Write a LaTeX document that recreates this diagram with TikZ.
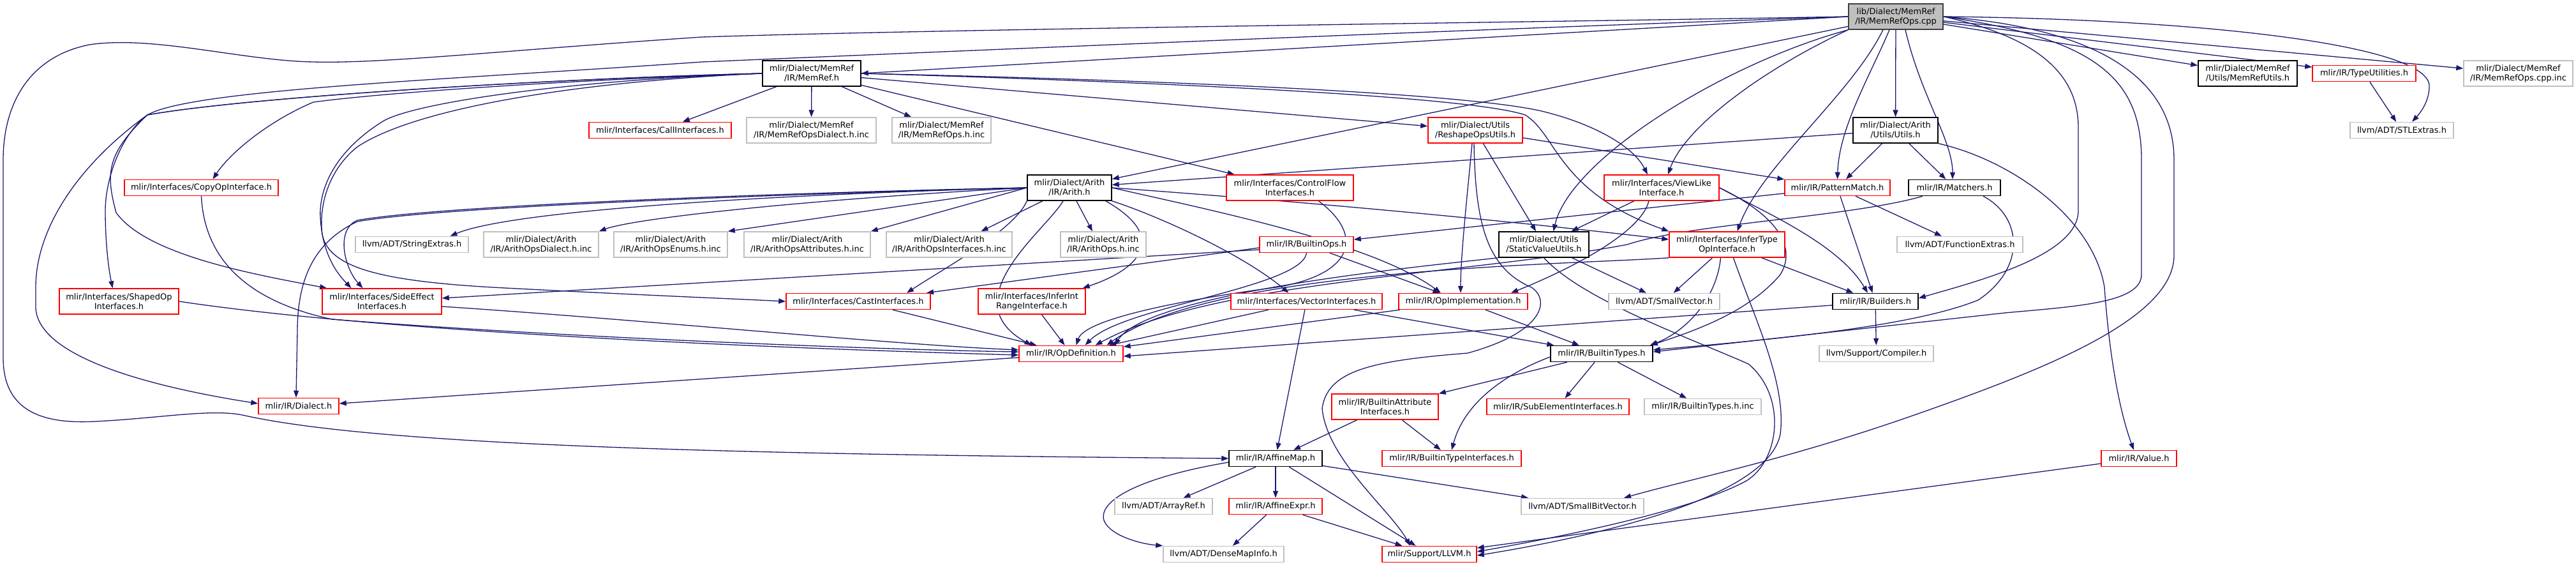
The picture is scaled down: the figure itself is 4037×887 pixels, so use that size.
\documentclass[tikz,border=0pt]{standalone}
\usepackage{fontspec}
\setmainfont{DejaVu Sans}
\usetikzlibrary{arrows.meta}
\pgfdeclarelayer{bg}
\pgfsetlayers{bg,main}
\definecolor{edgec}{HTML}{191970}
\definecolor{redb}{HTML}{FF0000}
\definecolor{grayb}{HTML}{BFBFBF}
\definecolor{rootf}{HTML}{BFBFBF}
\definecolor{rootb}{HTML}{404040}
\tikzset{
 nbox/.style={draw, fill=white, line width=1.5pt, inner sep=0pt, align=center, font=\fontsize{13}{15}\selectfont},
 redbox/.style={nbox, draw=redb},
 graybox/.style={nbox, draw=grayb},
 blackbox/.style={nbox, draw=black},
 rootbox/.style={nbox, draw=rootb, fill=rootf},
 one/.style={minimum height=25pt},
 two/.style={minimum height=40pt},
 e/.style={draw=edgec, line width=1.3pt, -{Triangle[length=11pt,width=8pt]}},
}
\newcommand\mk[6]{\node[#5, minimum width={(#3-#2)*1pt}] (#1) at ({(#2+#3)/2},#4) {#6};}
\begin{document}
\begin{tikzpicture}[x=1pt,y=-1pt]
\useasboundingbox (0,0) rectangle (4037,887);
\mk{R}{2897}{3045}{26}{rootbox,two}{lib/Dialect/MemRef\\/IR/MemRefOps.cpp}
\mk{MR}{1195}{1349}{115}{blackbox,two}{mlir/Dialect/MemRef\\/IR/MemRef.h}
\mk{MU}{3445}{3600}{115}{blackbox,two}{mlir/Dialect/MemRef\\/Utils/MemRefUtils.h}
\mk{TU}{3624}{3786}{115}{redbox,one}{mlir/IR/TypeUtilities.h}
\mk{CPI}{3861}{4032}{115}{graybox,two}{mlir/Dialect/MemRef\\/IR/MemRefOps.cpp.inc}
\mk{CI}{923}{1146}{204}{redbox,one}{mlir/Interfaces/CallInterfaces.h}
\mk{MRD}{1170}{1373}{204}{graybox,two}{mlir/Dialect/MemRef\\/IR/MemRefOpsDialect.h.inc}
\mk{MRO}{1398}{1553}{204}{graybox,two}{mlir/Dialect/MemRef\\/IR/MemRefOps.h.inc}
\mk{RU}{2238}{2386}{204}{redbox,two}{mlir/Dialect/Utils\\/ReshapeOpsUtils.h}
\mk{AU}{2904}{3037}{204}{blackbox,two}{mlir/Dialect/Arith\\/Utils/Utils.h}
\mk{STL}{3683}{3845}{204}{graybox,one}{llvm/ADT/STLExtras.h}
\mk{CP}{195}{436}{294}{redbox,one}{mlir/Interfaces/CopyOpInterface.h}
\mk{AR}{1610}{1742}{294}{blackbox,two}{mlir/Dialect/Arith\\/IR/Arith.h}
\mk{CF}{1922}{2121}{294}{redbox,two}{mlir/Interfaces/ControlFlow\\Interfaces.h}
\mk{VL}{2514}{2694}{294}{redbox,two}{mlir/Interfaces/ViewLike\\Interface.h}
\mk{PM}{2797}{2962}{294}{redbox,one}{mlir/IR/PatternMatch.h}
\mk{MA}{2991}{3135}{294}{blackbox,one}{mlir/IR/Matchers.h}
\mk{SX}{557}{734}{383}{graybox,one}{llvm/ADT/StringExtras.h}
\mk{AOD}{758}{938}{383}{graybox,two}{mlir/Dialect/Arith\\/IR/ArithOpsDialect.h.inc}
\mk{AOE}{962}{1140}{383}{graybox,two}{mlir/Dialect/Arith\\/IR/ArithOpsEnums.h.inc}
\mk{AOA}{1166}{1364}{383}{graybox,two}{mlir/Dialect/Arith\\/IR/ArithOpsAttributes.h.inc}
\mk{AOI}{1389}{1586}{383}{graybox,two}{mlir/Dialect/Arith\\/IR/ArithOpsInterfaces.h.inc}
\mk{AOH}{1662}{1796}{383}{graybox,two}{mlir/Dialect/Arith\\/IR/ArithOps.h.inc}
\mk{BO}{1974}{2121}{383}{redbox,one}{mlir/IR/BuiltinOps.h}
\mk{SV}{2349}{2490}{383}{blackbox,two}{mlir/Dialect/Utils\\/StaticValueUtils.h}
\mk{IT}{2616}{2797}{383}{redbox,two}{mlir/Interfaces/InferType\\OpInterface.h}
\mk{FE}{2973}{3170}{383}{graybox,one}{llvm/ADT/FunctionExtras.h}
\mk{SO}{93}{280}{472}{redbox,two}{mlir/Interfaces/ShapedOp\\Interfaces.h}
\mk{SE}{505}{692}{472}{redbox,two}{mlir/Interfaces/SideEffect\\Interfaces.h}
\mk{CA}{1232}{1458}{472}{redbox,one}{mlir/Interfaces/CastInterfaces.h}
\mk{IIR}{1533}{1701}{472}{redbox,two}{mlir/Interfaces/InferInt\\RangeInterface.h}
\mk{VI}{1929}{2166}{472}{redbox,one}{mlir/Interfaces/VectorInterfaces.h}
\mk{OI}{2192}{2394}{472}{redbox,one}{mlir/IR/OpImplementation.h}
\mk{SVE}{2521}{2695}{472}{graybox,one}{llvm/ADT/SmallVector.h}
\mk{BD}{2872}{3006}{472}{blackbox,one}{mlir/IR/Builders.h}
\mk{OD}{1597}{1760}{554}{redbox,one}{mlir/IR/OpDefinition.h}
\mk{BT}{2430}{2590}{554}{blackbox,one}{mlir/IR/BuiltinTypes.h}
\mk{CO}{2851}{3030}{554}{graybox,one}{llvm/Support/Compiler.h}
\mk{DI}{405}{531}{636}{redbox,one}{mlir/IR/Dialect.h}
\mk{BAI}{2087}{2254}{637}{redbox,two}{mlir/IR/BuiltinAttribute\\Interfaces.h}
\mk{SEI}{2330}{2553}{637}{redbox,one}{mlir/IR/SubElementInterfaces.h}
\mk{BTC}{2577}{2760}{637}{graybox,one}{mlir/IR/BuiltinTypes.h.inc}
\mk{AM}{1926}{2072}{718}{blackbox,one}{mlir/IR/AffineMap.h}
\mk{BTI}{2166}{2384}{718}{redbox,one}{mlir/IR/BuiltinTypeInterfaces.h}
\mk{VA}{3293}{3411}{718}{redbox,one}{mlir/IR/Value.h}
\mk{ARF}{1747}{1900}{793}{graybox,one}{llvm/ADT/ArrayRef.h}
\mk{AE}{1926}{2072}{793}{redbox,one}{mlir/IR/AffineExpr.h}
\mk{SBV}{2384}{2576}{793}{graybox,one}{llvm/ADT/SmallBitVector.h}
\mk{DMI}{1823}{2012}{868}{graybox,one}{llvm/ADT/DenseMapInfo.h}
\mk{LL}{2166}{2314}{868}{redbox,one}{mlir/Support/LLVM.h}
\begin{pgfonlayer}{bg}
% root
\draw[e] (R.west) -- (MR.east);
\draw[e] (R) -- (AR);
\draw[e] (R) -- (AU);
\draw[e] (R) -- (MU);
\draw[e] (R) -- (TU);
\draw[e] (R) -- (CPI);
\draw[e] (R.south west) .. controls (2700,100) and (2460,250) .. ([xshift=15]SV.north);
\draw[e] (R.south west) .. controls (2760,110) and (2640,200) .. ([xshift=10]VL.north);
\draw[e] ([xshift=-20]R.south) .. controls (2900,150) and (2760,260) .. ([xshift=16]IT.north);
\draw[e] ([xshift=-10]R.south) .. controls (2930,120) and (2882,200) .. (PM.north);
\draw[e] ([xshift=15]R.south) .. controls (3010,150) and (3060,220) .. ([xshift=-3]MA.north);
\draw[e] (R.west) .. controls (2200,50) and (1500,80) .. (1100,97) .. controls (700,125) and (300,140) .. (231,180) .. controls (168,240) and (165,270) .. (182,333) .. controls (230,400) and (400,430) .. ([xshift=8]SE.north west);
\draw[e] (R.west) .. controls (2400,35) and (1500,45) .. (1100,58) .. controls (800,78) and (600,100) .. (491,97) .. controls (380,95) and (240,55) .. (140,70) .. controls (40,90) and (5,170) .. (5,250) -- (5,560) .. controls (5,640) and (60,665) .. (150,660) .. controls (250,655) and (330,640) .. (380,650) .. controls (600,700) and (1200,712) .. (AM.west);
\draw[e] (R.east) .. controls (3200,60) and (3257,120) .. (3257,200) -- (3257,330) .. controls (3257,400) and (3100,440) .. ([yshift=5]BD.east);
\draw[e] (R.east) .. controls (3280,60) and (3356,120) .. (3356,250) -- (3356,430) .. controls (3356,475) and (3250,480) .. (3142,490) -- ([yshift=3]BT.east);
\draw[e] (R.east) .. controls (3450,30) and (3800,70) .. (3807,133) .. controls (3808,160) and (3790,180) .. ([xshift=16]STL.north);
\draw[e] (R.east) .. controls (3300,45) and (3407,130) .. (3407,250) -- (3407,400) .. controls (3407,500) and (3200,580) .. (3000,650) .. controls (2800,720) and (2650,750) .. ([xshift=65]SBV.north);
% MemRef.h
\draw[e] (MR) -- (CI);
\draw[e] (MR) -- (MRD);
\draw[e] (MR) -- (MRO);
\draw[e] (MR) -- (CF);
\draw[e] (MR) -- (RU);
\draw[e] (MR.east) .. controls (1800,125) and (2300,145) .. (2420,175) .. controls (2500,195) and (2560,230) .. ([xshift=-22]VL.north);
\draw[e] (MR.east) .. controls (1800,128) and (2300,150) .. (2390,180) .. controls (2440,210) and (2440,300) .. (IT.north west);
\draw[e] (MR.west) .. controls (900,125) and (600,145) .. (491,160) .. controls (420,190) and (360,240) .. ([xshift=18]CP.north);
\draw[e] (MR.west) .. controls (900,122) and (400,150) .. (231,180) .. controls (190,210) and (165,280) .. (165,330) .. controls (165,380) and (170,420) .. ([xshift=-10]SO.north);
\draw[e] (MR.west) .. controls (900,122) and (400,150) .. (231,180) .. controls (120,260) and (56,360) .. (56,450) -- (56,480) .. controls (56,550) and (200,600) .. ([yshift=4]DI.west);
\draw[e] (MR.west) .. controls (900,125) and (650,160) .. (600,190) .. controls (520,240) and (500,300) .. (502,340) .. controls (505,400) and (530,430) .. ([xshift=-48]SE.north);
\draw[e] (MR.west) .. controls (900,128) and (650,170) .. (560,230) .. controls (510,270) and (500,330) .. (505,367) .. controls (515,420) and (600,440) .. (772,450) .. controls (1000,462) and (1150,468) .. (CA.west);
% Arith.h
\draw[e] (AR.west) .. controls (1300,300) and (700,320) .. (560,345) .. controls (525,360) and (540,420) .. ([xshift=-30]SE.north);
\draw[e] (AR.west) .. controls (1300,302) and (700,322) .. (560,347) .. controls (490,380) and (466,440) .. (466,520) -- ([xshift=-4]DI.north);
\draw[e] (AR.west) .. controls (1200,305) and (800,330) .. ([xshift=60]SX.north);
\draw[e] (AR.west) .. controls (1300,310) and (1000,340) .. (AOD.north east);
\draw[e] (AR.west) -- (AOE.north east);
\draw[e] (AR.west) -- (AOA.north east);
\draw[e] (AR) -- ([xshift=50]AOI.north);
\draw[e] (AR) -- ([xshift=-17]AOH.north);
\draw[e] (AR.south west) .. controls (1590,360) and (1480,420) .. ([xshift=76]CA.north);
\draw[e] ([xshift=-10]AR.south east) .. controls (1830,370) and (1790,420) .. ([xshift=-5]IIR.north east);
\draw[e] (AR.south east) .. controls (1820,340) and (1950,400) .. ([xshift=-28]VI.north);
\draw[e] (AR.east) .. controls (1900,330) and (2150,380) .. ([xshift=-35]OI.north);
\draw[e] ([xshift=-10]AR.south) .. controls (1640,360) and (1490,470) .. ([xshift=-62]OD.north);
\draw[e] (AR.east) .. controls (2100,320) and (2400,350) .. ([yshift=8]IT.west);
% Arith utils
\draw[e] (AU) -- (AR);
\draw[e] (AU) -- (PM);
\draw[e] (AU) -- (MA);
\draw[e] (AU.south east) .. controls (3150,250) and (3280,340) .. (3298,450) .. controls (3305,550) and (3320,640) .. ([xshift=-8]VA.north);
% ReshapeOpsUtils
\draw[e] (RU) -- (PM);
\draw[e] ([xshift=-5]RU.south) .. controls (2300,300) and (2289,400) .. ([xshift=-4]OI.north);
\draw[e] (RU) -- (SV);
\draw[e] ([xshift=-2]RU.south) .. controls (2312,350) and (2330,420) .. (2400,450) .. controls (2430,470) and (2420,520) .. (2300,553) .. controls (2150,565) and (2080,580) .. (2072,640) .. controls (2080,720) and (2180,800) .. ([xshift=-30]LL.north);
% ViewLike
\draw[e] (VL) -- (SV);
\draw[e] ([xshift=-20]VL.south) .. controls (2570,370) and (2440,430) .. ([xshift=75]OI.north);
\draw[e] (VL.east) .. controls (2760,330) and (2880,380) .. ([xshift=-12]BD.north);
\draw[e] (VL.east) .. controls (2790,340) and (2815,390) .. (2790,430) .. controls (2740,490) and (2650,520) .. ([xshift=-4]BT.north east);
% StaticValueUtils
\draw[e] (SV) -- (SVE);
\draw[e] (SV.south west) .. controls (2200,420) and (1800,460) .. ([xshift=68]OD.north);
\draw[e] (SV.south) .. controls (2480,470) and (2650,530) .. (2740,570) .. controls (2800,620) and (2790,720) .. (2737,753) .. controls (2650,800) and (2450,840) .. ([yshift=4]LL.east);
% InferType
\draw[e] (IT) -- (SVE);
\draw[e] (IT) -- (BD);
\draw[e] ([xshift=-10]IT.south) .. controls (2690,470) and (2640,520) .. ([xshift=-5]BT.north east);
\draw[e] ([xshift=10]IT.south) .. controls (2750,500) and (2800,600) .. (2790,680) .. controls (2770,780) and (2500,840) .. ([yshift=-2]LL.east);
\draw[e] (IT.south west) .. controls (2450,415) and (1900,420) .. ([xshift=56]OD.north);
% PatternMatch
\draw[e] (PM) -- (BO);
\draw[e] (PM) -- (BD);
\draw[e] (PM) -- (FE);
% Matchers
\draw[e] ([xshift=45]MA.south) .. controls (3170,340) and (3175,420) .. (3100,470) .. controls (3000,510) and (2800,530) .. ([yshift=6]BT.east);
\draw[e] ([xshift=-50]MA.south) .. controls (2900,340) and (2650,350) .. (2550,383) .. controls (2300,430) and (1900,440) .. ([xshift=38]OD.north);
% BuiltinOps
\draw[e] ([yshift=-5]BO.west) -- ([xshift=107]CA.north);
\draw[e] ([yshift=-8]BO.west) -- ([yshift=5]SE.east);
\draw[e] (BO.south) .. controls (2040,450) and (1760,480) .. ([xshift=22]OD.north);
\draw[e] (BO) -- (OI);
% ControlFlow
\draw[e] ([xshift=45]CF.south) .. controls (2140,370) and (2120,430) .. (2000,450) .. controls (1850,470) and (1700,500) .. ([xshift=8]OD.north);
% row 5 to OpDefinition
\draw[e] (CP.south) .. controls (320,400) and (380,470) .. (520,500) .. controls (900,530) and (1400,548) .. ([yshift=3]OD.west);
\draw[e] (SO.east) .. controls (600,520) and (1200,545) .. ([yshift=-2]OD.west);
\draw[e] ([yshift=-8]SE.east) .. controls (1000,500) and (1400,540) .. ([yshift=6]OD.west);
\draw[e] (CA) -- (OD);
\draw[e] (IIR) -- (OD);
\draw[e] (VI) -- (OD);
\draw[e] (VI) -- (BT);
\draw[e] (VI) -- (AM);
\draw[e] (OI) -- (OD);
\draw[e] (OI) -- (BT);
\draw[e] ([yshift=-6]BD.west) -- ([yshift=-4]OD.east);
\draw[e] (BD) -- (CO);
\draw[e] ([yshift=-6]OD.west) -- ([yshift=4]DI.east);
% BuiltinTypes
\draw[e] (BT) -- (BAI);
\draw[e] (BT) -- (SEI);
\draw[e] (BT) -- (BTC);
\draw[e] ([yshift=-5]BT.west) .. controls (2360,585) and (2295,630) .. (BTI.north);
\draw[e] (BAI) -- (AM);
\draw[e] (BAI) -- (BTI);
% AffineMap
\draw[e] (AM) -- (ARF);
\draw[e] (AM) -- (AE);
\draw[e] ([yshift=-6]AM.west) .. controls (1800,745) and (1720,780) .. (1730,815) .. controls (1740,840) and (1790,852) .. (DMI.north west);
\draw[e] (AM) -- (SBV);
\draw[e] (AM) -- (LL);
\draw[e] (AE) -- (DMI);
\draw[e] (AE) -- (LL);
\draw[e] (VA) -- (LL);
\draw[e] (TU) -- (STL);
\end{pgfonlayer}
\end{tikzpicture}
\end{document}
